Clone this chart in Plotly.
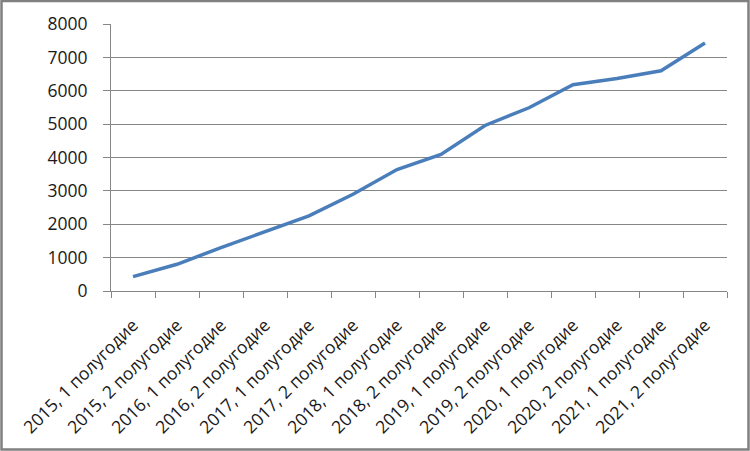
import plotly.graph_objects as go

categories = [
    "2015, 1 полугодие", "2015, 2 полугодие",
    "2016, 1 полугодие", "2016, 2 полугодие",
    "2017, 1 полугодие", "2017, 2 полугодие",
    "2018, 1 полугодие", "2018, 2 полугодие",
    "2019, 1 полугодие", "2019, 2 полугодие",
    "2020, 1 полугодие", "2020, 2 полугодие",
    "2021, 1 полугодие", "2021, 2 полугодие",
]
values = [430, 800, 1300, 1780, 2250, 2900, 3640, 4090, 4960, 5490, 6180, 6370, 6600, 7430]
y_ticks = [0, 1000, 2000, 3000, 4000, 5000, 6000, 7000, 8000]

W, H = 750, 451
L, R, T, B = 111, 23, 24, 160
pw, ph = W - L - R, H - T - B

fig = go.Figure()
fig.add_trace(go.Scatter(
    x=categories, y=values, mode="lines",
    line=dict(color="#4a7ebb", width=3.5),
    hoverinfo="x+y",
))

axis_gray = "#868686"
fig.update_layout(
    width=W, height=H,
    margin=dict(l=L, r=R, t=T, b=B, pad=0, autoexpand=False),
    paper_bgcolor="white", plot_bgcolor="white",
    showlegend=False,
    font=dict(family="Open Sans", size=17.5, color="#1a1a1a"),
    xaxis=dict(
        type="category", tickson="boundaries",
        ticks="outside", ticklen=6, tickcolor=axis_gray,
        showline=True, linecolor=axis_gray, linewidth=1,
        showgrid=False, tickangle=-45, automargin=False,
        tickfont=dict(size=17.5),
        ticklabelstandoff=16,
        range=[-0.5, len(categories) - 0.5],
    ),
    yaxis=dict(
        range=[0, 8000], tickvals=y_ticks,
        ticktext=[str(v) for v in y_ticks],
        ticks="outside", ticklen=7, tickcolor=axis_gray,
        showline=True, linecolor=axis_gray, linewidth=1,
        showgrid=True, gridcolor=axis_gray, gridwidth=1,
        zeroline=False, tickfont=dict(size=17.5), automargin=False,
        ticklabelstandoff=12,
    ),
    shapes=[dict(
        type="rect", xref="paper", yref="paper",
        x0=(1.5 - L) / pw, x1=(W - 1.5 - L) / pw,
        y0=-(B - 1.5) / ph,
        y1=(ph + T - 1.0) / ph,
        line=dict(color="#808080", width=2.5),
        layer="above",
    )],
)

fig.write_html("out.html")
